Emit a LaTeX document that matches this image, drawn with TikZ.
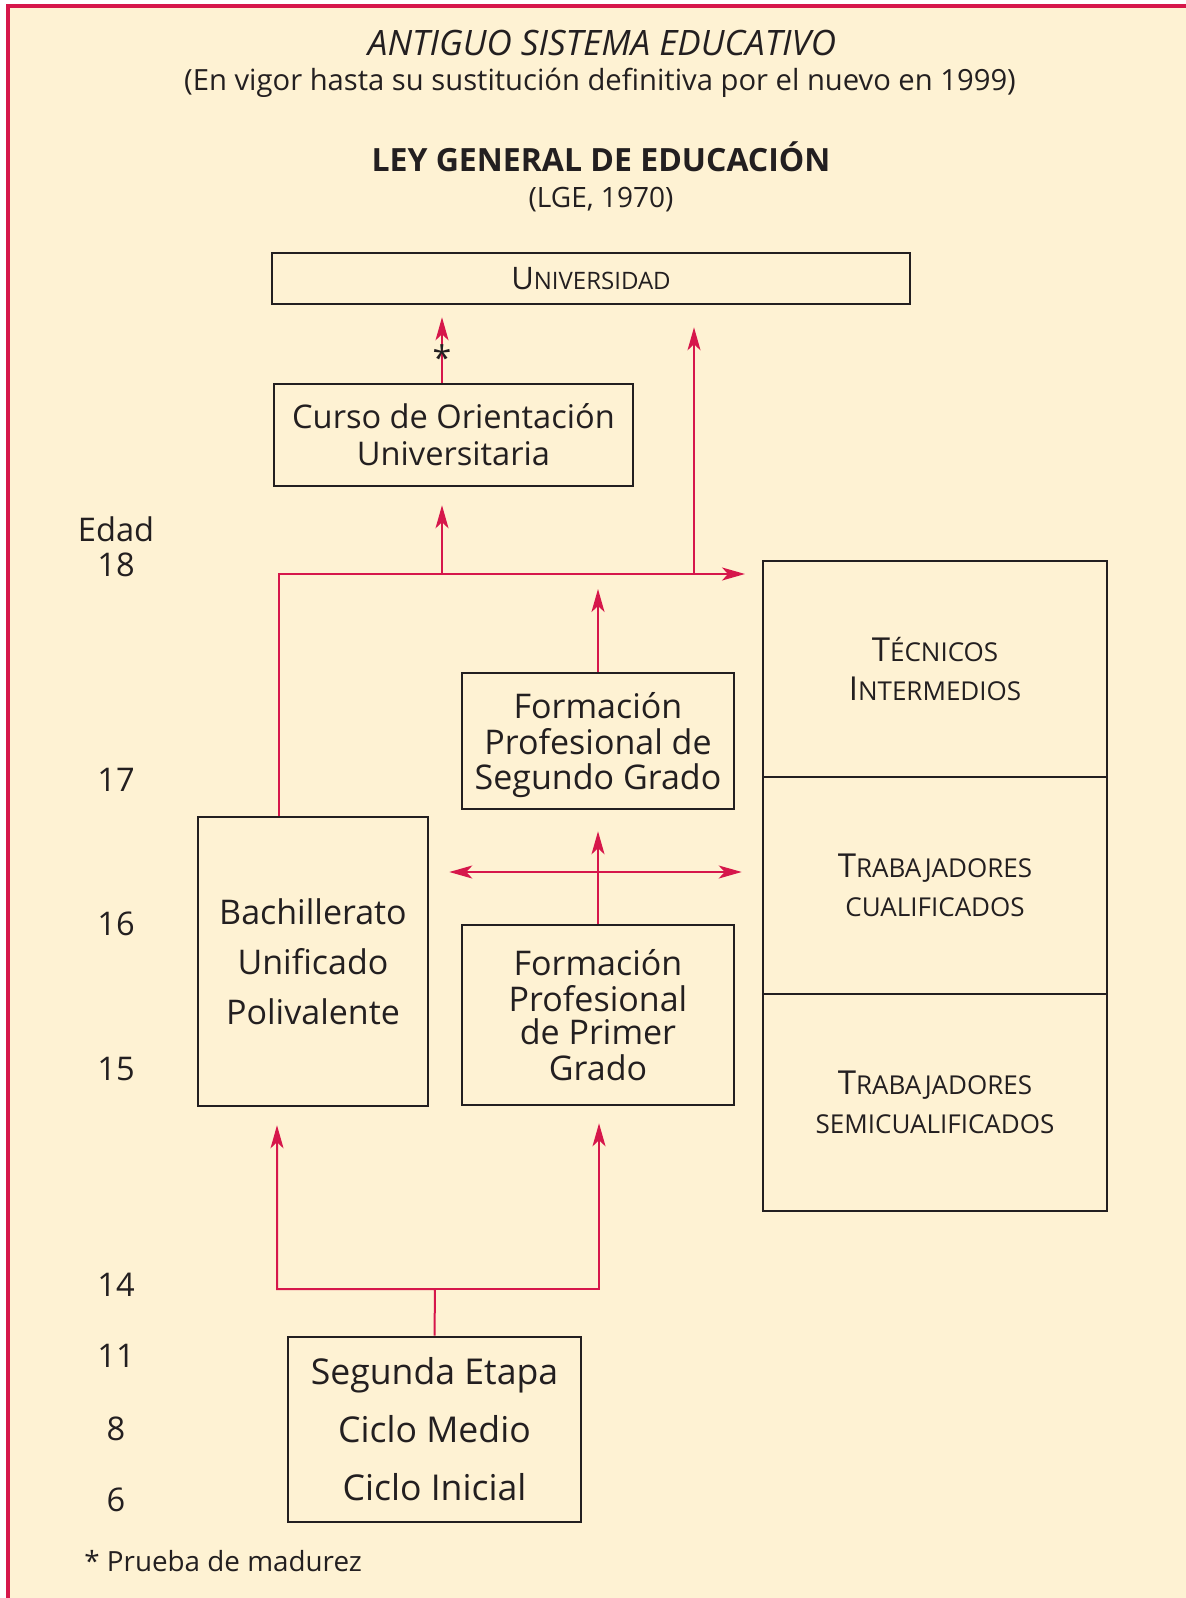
\documentclass[tikz,border=0pt]{standalone}
\usepackage{fontspec}
\setmainfont{Open Sans}
\usepackage{xcolor}
\usetikzlibrary{arrows.meta}

\definecolor{lgered}{HTML}{D6174B}
\definecolor{lgecream}{HTML}{FEF2D3}
\definecolor{lgeink}{HTML}{231F20}
\newcommand{\scbig}[1]{{\fontsize{16.5}{19.5}\selectfont #1}}
\newcommand{\scsmall}[1]{{\fontsize{13}{19.5}\selectfont #1}}

\begin{document}
\begin{tikzpicture}[x=0.5pt,y=-0.5pt,
    box/.style={draw=lgeink,line width=1.3pt,text=lgeink,align=center,inner sep=0pt},
    plain/.style={text=lgeink,inner sep=0pt,align=center},
    link/.style={lgered,line width=1pt},
    redarrow/.style={link,-{Stealth[length=11.5pt,width=6.5pt,inset=3pt]}},
    redboth/.style={link,{Stealth[length=11.5pt,width=6.5pt,inset=3pt]}-{Stealth[length=11.5pt,width=6.5pt,inset=3pt]}}]
\useasboundingbox (0,0) rectangle (1186,1598);
% page and frame
\fill[white] (0,0) rectangle (1186,1598);
\fill[lgecream] (8,6) rectangle (1186,1598);
\draw[lgered,line width=2pt] (8,1598) -- (8,6) -- (1186,6);

% titles
\node[plain,font=\fontsize{17.5}{20}\selectfont\itshape] (tit) at (602,43) {ANTIGUO SISTEMA EDUCATIVO};
\node[plain,font=\fontsize{14.6}{17}\selectfont] (vigor) at (600,83) {(En vigor hasta su sustitución definitiva por el nuevo en 1999)};
\node[plain,font=\fontsize{16}{19}\selectfont\bfseries] (ley) at (601,157) {LEY GENERAL DE EDUCACIÓN};
\node[plain,font=\fontsize{14}{17}\selectfont] (lge) at (601,200) {(LGE, 1970)};

% boxes
\node[box,minimum width=319pt,minimum height=25.5pt] (univ) at (591,278.5)
  {{\fontsize{15.5}{18}\selectfont U}{\fontsize{12}{18}\selectfont NIVERSIDAD}};
\node[box,minimum width=179.5pt,minimum height=51pt,font=\fontsize{16.3}{18.5}\selectfont] (cou) at (453.5,435)
  {Curso de Orientación\\Universitaria};
\node[box,minimum width=136pt,minimum height=68pt,text depth=0pt,font=\fontsize{17}{17.75}\selectfont] (fp2) at (598,741)
  {Formación\\Profesional de\\Segundo Grado};
\node[box,minimum width=115pt,minimum height=144.5pt,font=\fontsize{17}{25}\selectfont] (bup) at (313,961.5)
  {Bachillerato\\Unificado\\Polivalente};
\node[box,minimum width=136pt,minimum height=90pt,font=\fontsize{17}{18}\selectfont] (fp1) at (598,1015)
  {Formación\\Profesional\\[-1.5pt]de Primer\\Grado};
\node[box,minimum width=146.5pt,minimum height=92.5pt,font=\fontsize{17.8}{29}\selectfont] (egb) at (434.5,1429.5)
  {Segunda Etapa\\Ciclo Medio\\Ciclo Inicial};

% right column
\node[box,minimum width=172pt,minimum height=108pt,font=\fontsize{13}{19.5}\selectfont] (tec) at (935,669)
  {\scbig{T}\scsmall{ÉCNICOS}\\\scbig{I}\scsmall{NTERMEDIOS}};
\node[box,minimum width=172pt,minimum height=108.5pt,font=\fontsize{13}{19.5}\selectfont] (cual) at (935,885.5)
  {\scbig{T}\scsmall{RABAJADORES}\\\scsmall{CUALIFICADOS}};
\node[box,minimum width=172pt,minimum height=108.5pt,font=\fontsize{13}{19.5}\selectfont] (semi) at (935,1102.5)
  {\scbig{T}\scsmall{RABAJADORES}\\\scsmall{SEMICUALIFICADOS}};

% ages
\foreach \age/\ypos in {Edad/529,18/565,17/780,16/924,15/1069,14/1285,11/1356,8/1429,6/1500}
  \node[plain,font=\fontsize{16.3}{19}\selectfont] (age\age) at (116,\ypos) {\age};
\node[plain,anchor=west,font=\fontsize{13.9}{16}\selectfont] (nota) at (84,1561) {* Prueba de madurez};

% connectors
\coordinate (L18) at (279,574);
\coordinate (C18) at (442,574);
\coordinate (U18) at (694,574);
\coordinate (R18) at (745,574);
\coordinate (X16) at (598,872);
\coordinate (J14) at (435,1289);
\coordinate (L14) at (277,1289);
\coordinate (R14) at (599,1289);

\draw[redarrow] (bup.north -| L18) -- (L18) -- (R18);
\draw[redarrow,shorten >=9pt] (C18) -- (C18 |- cou.south);
\draw[redarrow,shorten >=6pt] (cou.north -| C18) -- (C18 |- univ.south);
\draw[redarrow,shorten >=11pt] (U18) -- (U18 |- univ.south);
\draw[redarrow,shorten >=7.5pt] (fp2.north) -- (fp2.north |- L18);
\draw[redarrow,shorten >=10.5pt] (fp1.north) -- (fp2.south);
\draw[redboth,shorten <=10pt,shorten >=10pt] (bup.east |- X16) -- (tec.west |- X16);
\draw[redarrow,shorten >=9pt] (egb.north) -- (J14) -- (L14) -- (L14 |- bup.south);
\draw[redarrow,shorten >=8.5pt] (J14) -- (R14) -- (R14 |- fp1.south);
\node[plain,font=\fontsize{17}{19}\selectfont] (ast) at (442,358) {*};
\end{tikzpicture}
\end{document}
